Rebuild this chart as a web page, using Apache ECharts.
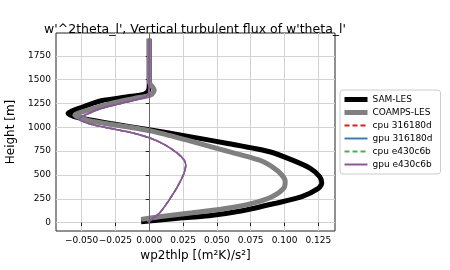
<!DOCTYPE html>
<html>
<head>
    <meta charset="UTF-8">
    <title>wp2thlp</title>
    <script src="https://cdn.jsdelivr.net/npm/echarts@6/dist/echarts.min.js"></script>
    <style type="text/css">
        html, body, #main {
            height: 100%;
            width: 100%;
            margin: 0;
            padding: 0;
            background: #fff;
        }
    </style>
</head>
<body>
<div id="main"></div>
<script type="text/javascript">
    // SAM-LES profile
    var samHeight = [10, 44, 72, 124, 202, 272, 360, 412, 482, 570, 658, 744, 831, 900, 975, 1040, 1100, 1145, 1208, 1279, 1321, 1349, 1381, 1450, 1930];
    var samFlux = [-0.006, 0.0196, 0.0441, 0.0687, 0.0932, 0.1128, 0.125, 0.1275, 0.126, 0.119, 0.1054, 0.089, 0.058, 0.031, 0.0, -0.0285, -0.052, -0.0600, -0.0502, -0.0355, -0.0159, -0.0037, -0.0007, 0.0, 0.0];
    // COAMPS-LES profile
    var coampsHeight = [34, 61, 103, 149, 202, 272, 360, 429, 500, 587, 658, 779, 873, 960, 1005, 1058, 1100, 1128, 1181, 1250, 1303, 1339, 1391, 1479, 1930];
    var coampsFlux = [-0.006, 0.0074, 0.0319, 0.0564, 0.076, 0.0907, 0.0993, 0.1005, 0.098, 0.0907, 0.081, 0.05, 0.026, 0.002, -0.0159, -0.0404, -0.051, -0.055, -0.0453, -0.0282, -0.011, 0.0012, 0.0037, 0.0, 0.0];
    // CLUBB runs (all four lie on top of each other)
    var modelHeight = [8, 97, 237, 377, 518, 605, 658, 726, 814, 890, 953, 1023, 1086, 1110, 1198, 1268, 1321, 1381, 1930];
    var modelFlux = [-0.001, 0.0074, 0.0147, 0.0209, 0.0257, 0.027, 0.0257, 0.021, 0.012, 0.0, -0.0159, -0.0404, -0.0515, -0.0502, -0.0355, -0.0159, -0.0024, 0.0, 0.0];

    var xTicks = [-0.05, -0.025, 0, 0.025, 0.05, 0.075, 0.1, 0.125];
    var yTicks = [0, 250, 500, 750, 1000, 1250, 1500, 1750];

    function pairs(xs, ys) {
        var out = [];
        for (var i = 0; i < xs.length; i++) out.push([xs[i], ys[i]]);
        return out;
    }

    var font = 'DejaVu Sans';
    var mycharts = echarts.init(document.getElementById('main'));

    function lineSeries(name, xs, ys, color, width, type, z) {
        return {
            name: name,
            type: 'line',
            data: pairs(xs, ys),
            smooth: 0.25,
            symbol: 'none',
            z: z,
            lineStyle: {color: color, width: width, type: type, cap: 'butt'},
            itemStyle: {color: color}
        };
    }

    var series = [
        lineSeries('SAM-LES', samFlux, samHeight, '#000000', 5, 'solid', 2),
        lineSeries('COAMPS-LES', coampsFlux, coampsHeight, '#808080', 5, 'solid', 3),
        lineSeries('cpu 316180d', modelFlux, modelHeight, '#e41a1c', 1.5, [5, 3], 4),
        lineSeries('gpu 316180d', modelFlux, modelHeight, '#377eb8', 1.5, 'solid', 5),
        lineSeries('cpu e430c6b', modelFlux, modelHeight, '#4daf4a', 1.5, [5, 3], 6),
        lineSeries('gpu e430c6b', modelFlux, modelHeight, '#984ea3', 1.5, 'solid', 7)
    ];
    // zero line
    series[0].markLine = {
        silent: true,
        symbol: 'none',
        label: {show: false},
        lineStyle: {color: '#666', width: 1, type: 'solid'},
        data: [{xAxis: 0}]
    };

    var option = {
        animation: false,
        title: {
            text: "w'^2theta_l', Vertical turbulent flux of w'theta_l'",
            left: 190, top: 18, textAlign: 'center',
            textStyle: {fontFamily: font, fontSize: 12.5, fontWeight: 'normal', color: '#000'}
        },
        grid: {
            left: 56, right: 115, top: 33, bottom: 39,
            outerBoundsMode: 'none', containLabel: false,
            show: true, borderColor: '#222', borderWidth: 1
        },
        legend: {
            orient: 'vertical',
            left: 340, top: 90,
            padding: [5, 8, 5, 2],
            itemGap: 4,
            itemWidth: 23, itemHeight: 8,
            itemStyle: {opacity: 0},
            borderColor: '#ccc', borderWidth: 1, borderRadius: 3,
            backgroundColor: '#fff',
            textStyle: {fontFamily: font, fontSize: 9, color: '#000'},
            data: [
                {name: 'SAM-LES', lineStyle: {width: 5}},
                {name: 'COAMPS-LES', lineStyle: {width: 5}},
                {name: 'cpu 316180d', lineStyle: {width: 2}},
                {name: 'gpu 316180d', lineStyle: {width: 2}},
                {name: 'cpu e430c6b', lineStyle: {width: 2}},
                {name: 'gpu e430c6b', lineStyle: {width: 2}}
            ]
        },
        xAxis: {
            type: 'value',
            min: -0.0689, max: 0.1373,
            name: 'wp2thlp [(m²K)/s²]',
            nameLocation: 'middle', nameGap: 19,
            nameTextStyle: {fontFamily: font, fontSize: 12, color: '#000'},
            axisLine: {show: false},
            axisTick: {show: true, length: 3.5, lineStyle: {color: '#222'}, customValues: xTicks},
            axisLabel: {
                fontFamily: font, fontSize: 9, color: '#000', margin: 5,
                customValues: xTicks, interval: 0, hideOverlap: false,
                formatter: function (v) { return v.toFixed(3).replace('-', '\u2212'); }
            },
            splitLine: {show: true, lineStyle: {color: '#d3d3d3', width: 1}}
        },
        yAxis: {
            type: 'value',
            min: -88, max: 1990,
            name: 'Height [m]',
            nameLocation: 'middle', nameGap: 23,
            nameTextStyle: {fontFamily: font, fontSize: 12, color: '#000'},
            axisLine: {show: false},
            axisTick: {show: true, length: 3.5, lineStyle: {color: '#222'}, customValues: yTicks},
            axisLabel: {
                fontFamily: font, fontSize: 9, color: '#000', margin: 5,
                customValues: yTicks, interval: 0,
                formatter: function (v) { return String(v); }
            },
            splitLine: {show: true, lineStyle: {color: '#d3d3d3', width: 1}}
        },
        series: series
    };

    mycharts.setOption(option);
</script>
</body>
</html>
